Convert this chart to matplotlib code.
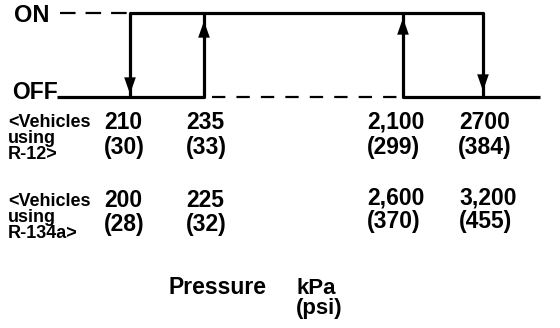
import matplotlib
matplotlib.use("Agg")
import matplotlib.pyplot as plt

plt.rcParams['font.family'] = ['Liberation Sans', 'DejaVu Sans']
plt.rcParams['font.weight'] = 'bold'

# switch states
state_labels = ["ON", "OFF"]
on_y, off_y = 13, 97

# switching points on the schematic pressure axis (left to right)
switch_x = [130, 204, 403, 483]
switch_dir = ["down", "up", "up", "down"]

r12_label = ["<Vehicles", "using", "R-12>"]
r134a_label = ["<Vehicles", "using", "R-134a>"]
r12_kpa = ["210", "235", "2,100", "2700"]
r12_psi = ["(30)", "(33)", "(299)", "(384)"]
r134a_kpa = ["200", "225", "2,600", "3,200"]
r134a_psi = ["(28)", "(32)", "(370)", "(455)"]

fig = plt.figure(figsize=(5.6, 3.28), dpi=100)
ax = fig.add_axes([0, 0, 1, 1])
ax.set_xlim(0, 560)
ax.set_ylim(328, 0)
ax.axis("off")

lw = 2.3
k = dict(color="black", lw=lw, solid_capstyle="butt", solid_joinstyle="round")

# dashed guide lines
ax.plot([60, switch_x[0]], [on_y, on_y], color="black", lw=1.6, dashes=(7, 4.5))
ax.plot([switch_x[1] + 8, switch_x[2]], [off_y, off_y], color="black", lw=1.6, dashes=(6, 5))

# solid hysteresis traces
ax.plot([57, switch_x[1], switch_x[1]], [off_y, off_y, on_y], **k)
ax.plot([switch_x[0], switch_x[0], switch_x[3], switch_x[3]], [off_y, on_y, on_y, off_y], **k)
ax.plot([switch_x[2], switch_x[2], 540], [on_y, off_y, off_y], **k)

# arrow heads
for x, d in zip(switch_x, switch_dir):
    if d == "up":
        tip, tail = (18 if x > 300 else 21), 45
    else:
        tip, tail = (94 if x < 300 else 91), 60
    ax.annotate("", xy=(x, tip), xytext=(x, tail),
                arrowprops=dict(arrowstyle="-|>,head_length=1.2,head_width=0.42",
                                color="black", lw=0, shrinkA=0, shrinkB=0))

# state labels
ax.text(14, 22, state_labels[0], fontsize=17, va="baseline", ha="left")
ax.text(12, 99, state_labels[1], fontsize=16.5, va="baseline", ha="left")

# group labels
for i, line in enumerate(r12_label):
    ax.text(8, 127 + 16 * i, line, fontsize=13, va="baseline", ha="left")
for i, line in enumerate(r134a_label):
    ax.text(8, 206 + 16 * i, line, fontsize=13, va="baseline", ha="left")

num_x = [104, 186, 367, 459]
for i, x in enumerate(num_x):
    ax.text(x, 129, r12_kpa[i], fontsize=16.5, va="baseline", ha="left")
    ax.text(x - (1 if i == 3 else 0), 154, r12_psi[i], fontsize=16.5, va="baseline", ha="left")
    dy = -3 if i >= 2 else 0
    ax.text(x, 207 + dy, r134a_kpa[i], fontsize=16.5, va="baseline", ha="left")
    ax.text(x, 231 + dy, r134a_psi[i], fontsize=16.5, va="baseline", ha="left")

ax.text(168, 294, "Pressure", fontsize=16.5, va="baseline", ha="left")
ax.text(296, 294, "kPa", fontsize=16, va="baseline", ha="left")
ax.text(296, 314, "(psi)", fontsize=16, va="baseline", ha="left")

fig.savefig("out.png", dpi=100, facecolor="white")
